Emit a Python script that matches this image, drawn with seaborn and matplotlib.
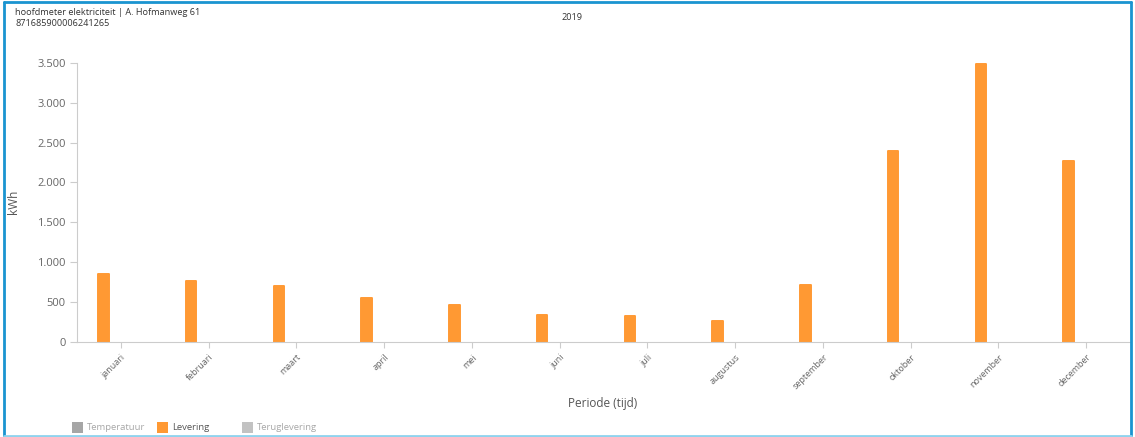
import matplotlib
matplotlib.use("Agg")
import matplotlib.pyplot as plt
from matplotlib.patches import Rectangle
from matplotlib.lines import Line2D
import seaborn as sns
import pandas as pd

months = ["januari", "februari", "maart", "april", "mei", "juni", "juli",
          "augustus", "september", "oktober", "november", "december"]
levering = [845, 755, 700, 545, 455, 330, 320, 260, 710, 2395, 3485, 2270]
teruglevering = [0, 0, 0, 0, 0, 0, 0, 0, 0, 0, 0, 0]
yticks = [0, 500, 1000, 1500, 2000, 2500, 3000, 3500]
ytick_labels = ["0", "500", "1.000", "1.500", "2.000", "2.500", "3.000", "3.500"]
legend_labels = ["Temperatuur", "Levering", "Teruglevering"]
legend_colors = ["#a6a6a6", "#ff9933", "#c2c2c2"]
legend_text_colors = ["#a8a8a8", "#555555", "#a8a8a8"]

df = pd.DataFrame({
    "maand": months * 2,
    "kWh": levering + teruglevering,
    "serie": ["Levering"] * len(months) + ["Teruglevering"] * len(months),
})

sns.set_theme(style="white")
plt.rcParams["font.family"] = ["Open Sans", "DejaVu Sans"]

W, H = 1135, 437
fig = plt.figure(figsize=(W / 100, H / 100), dpi=100)
ax = fig.add_axes([77 / W, (H - 341.5) / H, (1130 - 77) / W, (341.5 - 63) / H])

sns.barplot(data=df, x="maand", y="kWh", hue="serie", order=months,
            hue_order=["Levering", "Teruglevering"],
            palette={"Levering": "#ff9933", "Teruglevering": "#c2c2c2"},
            width=0.8, gap=0.7, dodge=True, legend=False, ax=ax,
            saturation=1, linewidth=0)
for p in ax.patches:
    if p.get_height() > 0:
        p.set_edgecolor(p.get_facecolor())
        p.set_linewidth(1.4)
        p.set_joinstyle("round")
    else:
        p.set_visible(False)

ax.set_xlim(-0.5, len(months) - 0.5)
ax.set_ylim(0, 3500)
ax.set_yticks(yticks)
ax.set_yticklabels(ytick_labels, fontsize=8, color="#666666")
ax.set_xticks(range(len(months)))
ax.set_xticklabels(months, rotation=45, ha="right", rotation_mode="anchor",
                   fontsize=6.5, color="#666666")
ax.tick_params(axis="y", length=5, color="#cccccc", width=0.8, pad=3, left=True)
ax.tick_params(axis="x", length=4, color="#cccccc", width=0.8, pad=4, bottom=True)
for s in ["top", "right"]:
    ax.spines[s].set_visible(False)
for s in ["left", "bottom"]:
    ax.spines[s].set_color("#cccccc")
    ax.spines[s].set_linewidth(0.8)
ax.set_ylabel("kWh", fontsize=8.5, color="#555555")
ax.yaxis.set_label_coords((20 - 77) / (1130 - 77), 0.5)
ax.set_xlabel("")
fig.text(603 / W, 1 - 403 / H, "Periode (tijd)", ha="center", va="center",
         fontsize=8.5, color="#555555")

# titles
fig.text(15 / W, 1 - 18 / H, "hoofdmeter elektriciteit | A. Hofmanweg 61\n871685900006241265",
         ha="left", va="center", fontsize=6.6, color="#333333", linespacing=1.15)
fig.text(572 / W, 1 - 17 / H, "2019", ha="center", va="center", fontsize=6.6, color="#333333")

# legend
xs = [72, 157, 242]
for x0, lab, c, tc in zip(xs, legend_labels, legend_colors, legend_text_colors):
    fig.add_artist(Rectangle((x0 / W, 1 - 433 / H), 11 / W, 11 / H,
                             transform=fig.transFigure, facecolor=c, edgecolor="none"))
    fig.text((x0 + 15) / W, 1 - 427.5 / H, lab, ha="left", va="center",
             fontsize=6.8, color=tc)

# frame
fig.add_artist(Line2D([4 / W, 4 / W], [1 - 436 / H, 1 - 2 / H], transform=fig.transFigure,
                      color="#1a94d0", lw=2))
fig.add_artist(Line2D([4 / W, 1131 / W], [1 - 2 / H, 1 - 2 / H], transform=fig.transFigure,
                      color="#1a94d0", lw=2))
fig.add_artist(Line2D([1131 / W, 1131 / W], [1 - 436 / H, 1 - 2 / H], transform=fig.transFigure,
                      color="#1a94d0", lw=2))
fig.add_artist(Line2D([4 / W, 1131 / W], [1 - 436 / H, 1 - 436 / H], transform=fig.transFigure,
                      color="#8fd3ee", lw=2))

fig.savefig("out.png", dpi=100, facecolor="white")
